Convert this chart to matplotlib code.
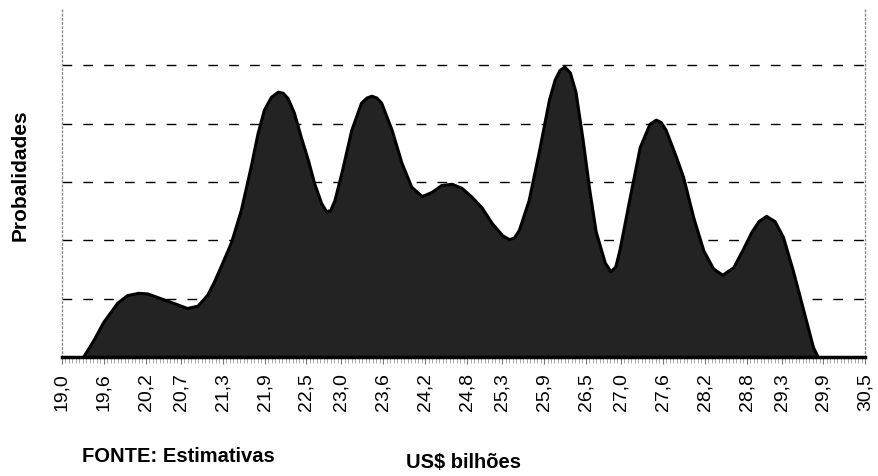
import matplotlib
matplotlib.use("Agg")
import matplotlib.pyplot as plt
from matplotlib.ticker import FixedLocator, MultipleLocator

# curve (US$ bilhões, probability units)
VALORES = [19.30, 19.45, 19.59, 19.79, 19.93, 20.09, 20.22, 20.36, 20.59, 20.79,
           20.94, 21.08, 21.17, 21.27, 21.42, 21.56, 21.70, 21.80, 21.89, 21.99,
           22.09, 22.16, 22.23, 22.32, 22.42, 22.52, 22.61, 22.71, 22.78, 22.84,
           22.90, 23.00, 23.14, 23.28, 23.36, 23.43, 23.50, 23.57, 23.72, 23.86,
           24.00, 24.15, 24.29, 24.43, 24.58, 24.72, 24.87, 25.01, 25.15, 25.30,
           25.40, 25.47, 25.54, 25.68, 25.83, 25.97, 26.05, 26.12, 26.19, 26.27,
           26.35, 26.45, 26.55, 26.64, 26.77, 26.85, 26.92, 26.98, 27.12, 27.27,
           27.41, 27.50, 27.57, 27.64, 27.79, 27.89, 28.04, 28.18, 28.32, 28.45,
           28.61, 28.75, 28.87, 28.97, 29.08, 29.20, 29.32, 29.46, 29.61, 29.75,
           29.82]
PROBS = [0.00, 0.29, 0.60, 0.93, 1.06, 1.10, 1.09, 1.03, 0.93, 0.84,
         0.88, 1.07, 1.28, 1.55, 1.97, 2.52, 3.26, 3.84, 4.24, 4.46,
         4.55, 4.53, 4.44, 4.19, 3.77, 3.38, 2.98, 2.64, 2.50, 2.52,
         2.69, 3.16, 3.89, 4.36, 4.45, 4.48, 4.45, 4.36, 3.89, 3.33,
         2.92, 2.76, 2.83, 2.95, 2.97, 2.90, 2.74, 2.56, 2.30, 2.09,
         2.02, 2.05, 2.18, 2.69, 3.55, 4.41, 4.75, 4.92, 4.98, 4.88,
         4.55, 3.75, 2.85, 2.15, 1.62, 1.47, 1.55, 1.84, 2.70, 3.60,
         4.00, 4.07, 4.03, 3.90, 3.43, 3.09, 2.38, 1.83, 1.52, 1.41,
         1.54, 1.86, 2.15, 2.33, 2.42, 2.33, 2.06, 1.49, 0.81, 0.17,
         0.00]

TICKS = [19.0, 19.6, 20.2, 20.7, 21.3, 21.9, 22.5, 23.0, 23.6, 24.2, 24.8,
         25.3, 25.9, 26.5, 27.0, 27.6, 28.2, 28.8, 29.3, 29.9, 30.5]
TICK_LABELS = [f"{t:.1f}".replace(".", ",") for t in TICKS]
GRID_Y = [1, 2, 3, 4, 5]

plt.rcParams["font.family"] = ["Liberation Sans", "DejaVu Sans"]

fig = plt.figure(figsize=(8.79, 4.77), dpi=100)
ax = fig.add_axes([0.0705, 0.2495, 0.914, 0.7335])

for g in GRID_Y:
    ax.axhline(g, color="black", lw=1.0, linestyle=(0, (7, 8)), zorder=1)

ax.fill_between(VALORES, PROBS, 0, color="#232323", edgecolor="black",
                lw=2.2, joinstyle="round", zorder=2)

ax.set_xlim(19.0, 30.5)
ax.set_ylim(0, 6)
ax.set_yticks([])
ax.xaxis.set_major_locator(FixedLocator(TICKS))
ax.set_xticklabels(TICK_LABELS, rotation=90, fontsize=14)
ax.xaxis.set_minor_locator(MultipleLocator(0.05))
ax.tick_params(axis="x", which="major", length=5, width=0.8, color="#777777", pad=6)
ax.tick_params(axis="x", which="minor", length=4, width=0.6, color="#999999")

ax.spines["top"].set_visible(False)
ax.spines["bottom"].set_linewidth(2.5)
ax.spines["bottom"].set_zorder(3)
for s in ("left", "right"):
    ax.spines[s].set_color("#8a8a8a")
    ax.spines[s].set_linestyle((0, (1, 2)))
    ax.spines[s].set_linewidth(1.0)

fig.text(0.023, 0.633, "Probalidades", rotation=90, ha="center", va="center",
         fontsize=15, fontweight="bold")
fig.text(0.093, 0.042, "FONTE: Estimativas", ha="left", va="center",
         fontsize=14.5, fontweight="bold")
fig.text(0.527, 0.03, "US$ bilhões", ha="center", va="center",
         fontsize=14.5, fontweight="bold")

fig.savefig("out.png", dpi=100, facecolor="white")
